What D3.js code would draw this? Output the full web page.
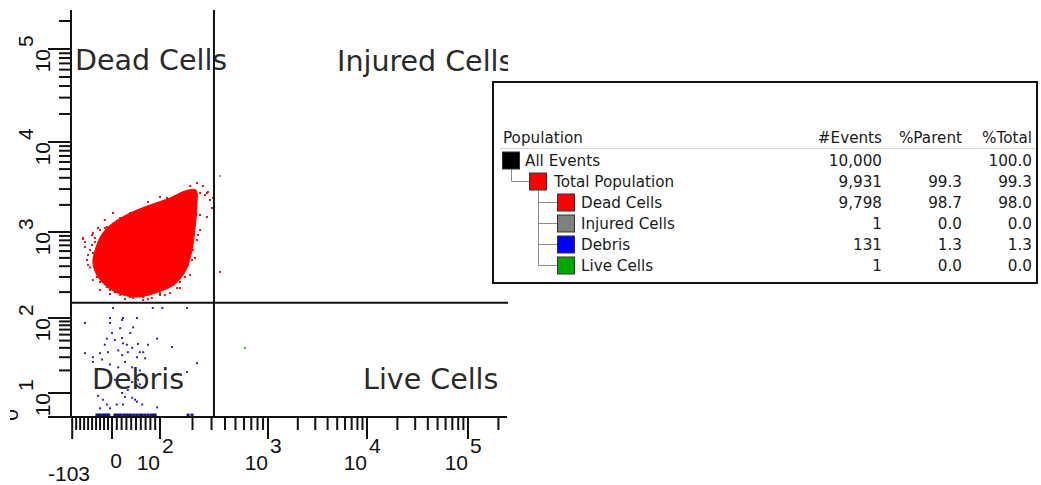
<!DOCTYPE html>
<html>
<head>
<meta charset="utf-8">
<script src="https://cdnjs.cloudflare.com/ajax/libs/d3/7.8.5/d3.min.js"></script>
<style>
  body { margin: 0; background: #fff; }
  svg { display: block; }
</style>
</head>
<body>
<div id="chart-area"></div>
<script>
// ---- data (fluorescence values, x = FL1, y = FL2) ----

// dense core of the Dead Cells cloud, outline
let deadCore = [[-48, 448], [-38, 706], [-23, 973], [2, 1259], [38, 1626], [79, 1995], [124, 2387], [170, 2855],
  [215, 2930], [220, 1995], [211, 1108], [198, 617], [174, 361], [138, 249], [96, 200], [54, 175], [17, 190],
  [-15, 236], [-38, 316]]

// scattered events around the core
let deadScatter = [[-73, 829], [-50, 706], [-55, 617], [-48, 570], [-63, 472], [-60, 413], [-38, 300], [-30, 262],
  [-13, 229], [6, 200], [21, 195], [38, 175], [65, 175], [83, 171], [100, 185], [124, 195], [144, 223], [153, 262],
  [170, 300], [182, 413], [198, 472], [202, 617], [220, 807], [235, 1052], [272, 1468], [303, 1848], [310, 2387],
  [220, 3500], [235, 2712], [278, 2783], [178, 2712], [190, 2783], [144, 2447], [75, 2154], [100, 2447], [116, 2387],
  [58, 1668], [38, 1626], [2, 1626], [-18, 1360], [-35, 1108], [-23, 874], [-43, 765], [272, 2712], [290, 2270],
  [160, 2712], [124, 2270], [107, 1896], [79, 1848], [13, 1292], [-13, 1137], [-30, 1052], [-48, 973], [-73, 851],
  [-68, 669], [-5, 212], [17, 185], [44, 171], [65, 162], [178, 436], [163, 334], [133, 242], [100, 195], [359, 343],
  [-43, 851], [-18, 1108], [17, 1431], [54, 1755], [96, 2100], [138, 2512], [190, 3245], [250, 3245], [261, 2575],
  [235, 1545], [225, 923], [211, 499], [190, 316], [153, 223], [111, 185], [75, 166], [27, 166], [-5, 190],
  [-30, 212], [-48, 276], [-55, 387], [-60, 540], [-50, 923], [-68, 765]]

let debrisPoints = [[2, 131], [85, 131], [105, 131], [178, 131], [-68, 86], [-5, 100], [-5, 86], [21, 94], [23, 100],
  [52, 100], [0, 63], [38, 63], [-13, 53], [6, 51], [21, 54], [94, 53], [23, 46], [31, 44], [54, 45], [42, 40],
  [33, 35], [65, 35], [58, 35], [129, 41], [-68, 34], [-48, 30], [-30, 34], [-48, 26], [-25, 28], [-10, 35],
  [21, 32], [52, 30], [69, 29], [220, 25], [178, 19], [-5, 24], [13, 22], [27, 26], [42, 22], [58, 20], [6, 15],
  [54, 15], [42, 14], [58, 13], [-35, 8.8], [-23, 7.2], [21, 10], [27, 8.4], [42, 8], [48, 7.2], [52, 6.4],
  [23, 5.2], [-13, 5.2], [10, 5.2], [63, 5.2], [94, 4], [-30, 3.6], [-5, 3.6], [33, 11], [13, 37], [-18, 44],
  [75, 44], [17, 73], [44, 75]]

// debris events piled on the axis (y ~ 0)
let debrisOnAxis = [-38, -33, -28, -22, -17, -12, -8, 6, 10, 15, 19, 25, 30, 35, 40, 46, 52, 58, 63, 69, 75, 81, 86, 90, 182, 198]

let injuredPoints = [[359, 4190]]
let livePoints = [[612, 40]]

// quadrant gate positions
let gateX = 316
let gateY = 150

let quadrantNames = ['Dead Cells', 'Injured Cells', 'Debris', 'Live Cells']

// axis labels
let xTickValues = [0, 100, 1000, 10000, 100000]
let xTickBase = ['0', '10', '10', '10', '10']
let xTickExp = ['', '2', '3', '4', '5']
let xMinLabel = '-103'
let yTickValues = [0, 10, 100, 1000, 10000, 100000]
let yTickBase = ['0', '10', '10', '10', '10', '10']
let yTickExp = ['', '1', '2', '3', '4', '5']

// statistics table
let popNames = ['All Events', 'Total Population', 'Dead Cells', 'Injured Cells', 'Debris', 'Live Cells']
let popLevel = [0, 1, 2, 2, 2, 2]
let popEvents = [10000, 9931, 9798, 1, 131, 1]
let popParent = [null, 99.3, 98.7, 0.0, 1.3, 0.0]
let popTotal = [100.0, 99.3, 98.0, 0.0, 1.3, 0.0]
let tableHeaders = ['Population', '#Events', '%Parent', '%Total']

let popColor = { 'All Events': '#000000', 'Total Population': '#ff0000', 'Dead Cells': '#ff0000',
  'Injured Cells': '#808080', 'Debris': '#0000ff', 'Live Cells': '#00a800' }

// ---- layout ----
let margin = { left: 71, top: 10 }
let width = 437
let height = 407

let svg = d3.select('#chart-area').append('svg')
  .attr('width', 1041)
  .attr('height', 485)

let g = svg.append('g')
  .attr('transform', 'translate(' + margin.left + ', ' + margin.top + ')')

// biexponential-like display transforms (linear near zero, log above)
function biexX(v) { return v <= 100 ? v / 100 : 1 + Math.log10(v / 100) }
function biexY(v) { return v <= 10 ? v / 10 : 1 + Math.log10(v / 10) }

let xs = d3.scaleLinear().domain([biexX(-103), 0, 1, 2, 3, 4]).range([0, 41, 89, 197, 296, 397])
let ys = d3.scaleLinear().domain([0, 1, 2, 3, 4, 5]).range([height, 383, 308, 222, 132, 39])
let x = (v) => xs(biexX(v))
let y = (v) => ys(biexY(v))

svg.append('defs').append('clipPath').attr('id', 'plot-clip')
  .append('rect').attr('x', 0).attr('y', 0).attr('width', width).attr('height', height + 2)

let plot = g.append('g').attr('clip-path', 'url(#plot-clip)')

// quadrant names
let labelFont = "'DejaVu Sans', sans-serif"
let qPos = [[4, 60], [266, 61], [21, 379], [292, 379]]
plot.selectAll('.qname')
  .data(quadrantNames)
  .join('text')
  .attr('class', 'qname')
  .attr('x', (d, i) => qPos[i][0])
  .attr('y', (d, i) => qPos[i][1])
  .attr('font-family', labelFont)
  .attr('font-size', 28.5)
  .attr('fill', '#2a2a2a')
  .text(d => d)

// dead cells: dense core + scattered events
plot.append('path')
  .attr('d', d3.line().x(d => x(d[0])).y(d => y(d[1])).curve(d3.curveCatmullRomClosed.alpha(0.5))(deadCore))
  .attr('fill', '#ff0000')
  .attr('stroke', '#ff0000')
  .attr('stroke-width', 1)

function dots(data, color, size) {
  plot.append('g').selectAll('rect')
    .data(data)
    .join('rect')
    .attr('x', d => x(d[0]) - size / 2)
    .attr('y', d => y(d[1]) - size / 2)
    .attr('width', size)
    .attr('height', size)
    .attr('fill', color)
}

dots(deadScatter, '#e01414', 2)
dots(debrisPoints, '#2a2aa8', 2)
dots(debrisOnAxis.map(v => [v, 0.8]), '#14148c', 3)
dots(injuredPoints, '#9a9a9a', 2)
dots(livePoints, '#22b822', 2)

// quadrant lines
plot.append('line')
  .attr('x1', x(gateX)).attr('x2', x(gateX))
  .attr('y1', 0).attr('y2', height)
  .attr('stroke', '#111').attr('stroke-width', 2)
plot.append('line')
  .attr('x1', 0).attr('x2', width)
  .attr('y1', y(gateY)).attr('y2', y(gateY))
  .attr('stroke', '#111').attr('stroke-width', 2)

// ---- axes ----
let axis = g.append('g').attr('stroke', '#111').attr('stroke-width', 2)

axis.append('line').attr('x1', 0).attr('x2', 0).attr('y1', 0).attr('y2', height)
axis.append('line').attr('x1', -21).attr('x2', width - 1).attr('y1', height).attr('y2', height)

let xMinor = d3.range(-90, 100, 10).filter(v => v !== 0)
  .concat([100, 1000, 10000].flatMap(b => d3.range(2, 10).map(k => k * b)), [200000])
let xMajor = [-100].concat(xTickValues)
let yMinor = [10, 100, 1000, 10000].flatMap(b => d3.range(2, 10).map(k => k * b)).concat([200000])

axis.selectAll('.xminor').data(xMinor).join('line')
  .attr('x1', d => x(d)).attr('x2', d => x(d))
  .attr('y1', height).attr('y2', height + 13)
axis.selectAll('.xmajor').data(xMajor).join('line')
  .attr('x1', d => x(d)).attr('x2', d => x(d))
  .attr('y1', height).attr('y2', height + 22)
axis.selectAll('.yminor').data(yMinor).join('line')
  .attr('x1', -12).attr('x2', 0)
  .attr('y1', d => y(d)).attr('y2', d => y(d))
axis.selectAll('.ymajor').data(yTickValues).join('line')
  .attr('x1', -23).attr('x2', 0)
  .attr('y1', d => y(d)).attr('y2', d => y(d))

let tickFont = "'Liberation Sans', Arial, sans-serif"
let xLab = g.append('g')
  .attr('font-family', tickFont).attr('font-size', 21).attr('fill', '#111')

xTickValues.forEach((v, i) => {
  if (xTickExp[i] === '') {
    xLab.append('text').attr('x', x(v) + 4).attr('y', height + 51)
      .attr('text-anchor', 'middle').text(xTickBase[i])
  } else {
    xLab.append('text').attr('x', x(v)).attr('y', height + 53)
      .attr('text-anchor', 'end').text(xTickBase[i])
    xLab.append('text').attr('x', x(v) + 2).attr('y', height + 36)
      .attr('text-anchor', 'start').text(xTickExp[i])
  }
})
xLab.append('text').attr('x', x(-103) + 19).attr('y', height + 64)
  .attr('text-anchor', 'end').text(xMinLabel)

svg.append('defs').append('clipPath').attr('id', 'ylab-clip')
  .append('rect').attr('x', -61).attr('y', -10).attr('width', 61).attr('height', 500)

let yLab = g.append('g')
  .attr('clip-path', 'url(#ylab-clip)')
  .attr('font-family', tickFont).attr('font-size', 21).attr('fill', '#111')

yTickValues.forEach((v, i) => {
  if (yTickExp[i] === '') {
    yLab.append('text')
      .attr('transform', 'translate(-53, ' + (y(v) - 2) + ') rotate(-90)')
      .attr('text-anchor', 'middle').text(yTickBase[i])
  } else {
    let lg = yLab.append('g').attr('transform', 'translate(-21, ' + y(v) + ') rotate(-90)')
    lg.append('text').attr('text-anchor', 'end').text(yTickBase[i])
    lg.append('text').attr('x', 2).attr('y', -17).attr('text-anchor', 'start').text(yTickExp[i])
  }
})

// ---- statistics table ----
let tableFont = "'DejaVu Sans', sans-serif"
let table = svg.append('g').attr('font-family', tableFont).attr('font-size', 15.2).attr('fill', '#1a1a1a')

table.append('rect')
  .attr('x', 493).attr('y', 82).attr('width', 544).attr('height', 201)
  .attr('fill', '#fff').attr('stroke', '#111').attr('stroke-width', 2)

let colRight = [null, 882, 962, 1032]
table.append('text').attr('x', 503).attr('y', 143).text(tableHeaders[0])
tableHeaders.slice(1).forEach((h, i) => {
  table.append('text').attr('x', colRight[i + 1]).attr('y', 143).attr('text-anchor', 'end').text(h)
})
table.append('line')
  .attr('x1', 500).attr('x2', 1035).attr('y1', 148.5).attr('y2', 148.5)
  .attr('stroke', '#d4d4d4').attr('stroke-width', 1)

let rowY = d3.scaleBand().domain(popNames).range([149, 275])
let rowMid = (name) => Math.round(rowY(name) + rowY.bandwidth() / 2) + 0.5
let swatchX = [502, 529, 557]
let textX = [525, 554, 581]
let fmtCount = d3.format(',')
let fmtPct = d3.format('.1f')

// tree connectors
let tree = table.append('g').attr('stroke', '#8a8a8a').attr('stroke-width', 1).attr('fill', 'none')
let root = popNames[0]
let parent = popNames[1]
tree.append('path').attr('d', 'M511.5,' + (rowMid(root) + 8) + 'V' + rowMid(parent) + 'H' + swatchX[1])
let children = popNames.filter((d, i) => popLevel[i] === 2)
tree.append('path').attr('d', 'M538.5,' + (rowMid(parent) + 8) + 'V' + rowMid(children[children.length - 1]))
tree.selectAll('.branch').data(children).join('line')
  .attr('x1', 538.5).attr('x2', swatchX[2])
  .attr('y1', d => rowMid(d)).attr('y2', d => rowMid(d))

let rows = table.selectAll('.row').data(popNames).join('g').attr('class', 'row')
rows.append('rect')
  .attr('x', (d, i) => swatchX[popLevel[i]] + 0.5)
  .attr('y', d => rowMid(d) - 8.5)
  .attr('width', 17).attr('height', 17)
  .attr('fill', d => popColor[d])
  .attr('stroke', '#333').attr('stroke-width', 1)
rows.append('text')
  .attr('x', (d, i) => textX[popLevel[i]])
  .attr('y', d => rowMid(d) + 5)
  .text(d => d)
rows.append('text')
  .attr('x', colRight[1]).attr('y', d => rowMid(d) + 5).attr('text-anchor', 'end')
  .text((d, i) => fmtCount(popEvents[i]))
rows.append('text')
  .attr('x', colRight[2]).attr('y', d => rowMid(d) + 5).attr('text-anchor', 'end')
  .text((d, i) => popParent[i] === null ? '' : fmtPct(popParent[i]))
rows.append('text')
  .attr('x', colRight[3]).attr('y', d => rowMid(d) + 5).attr('text-anchor', 'end')
  .text((d, i) => fmtPct(popTotal[i]))
</script>
</body>
</html>
